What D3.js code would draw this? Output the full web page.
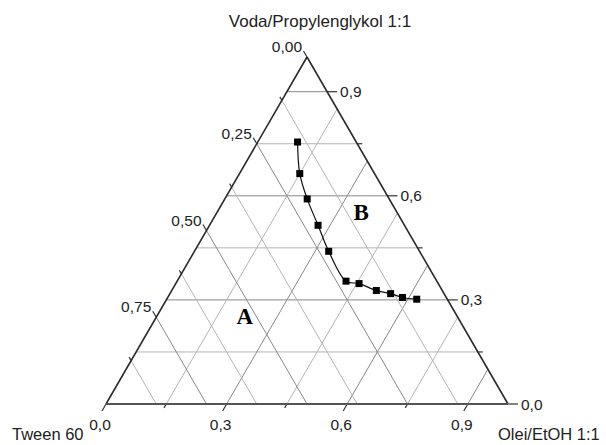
<!DOCTYPE html>
<html>
<head>
<meta charset="utf-8">
<script src="https://cdn.jsdelivr.net/npm/d3@7"></script>
<style>
  body { margin: 0; background: #fff; }
  svg { display: block; }
  text { font-family: "Liberation Sans", Arial, sans-serif; fill: #222; }
</style>
</head>
<body>
<div class="container"></div>
<script>
var width = 606, height = 445;

// composition of the measured boundary points (fractions)
var voda  = [0.755, 0.664, 0.591, 0.515, 0.440, 0.354, 0.347, 0.327, 0.318, 0.307, 0.302];
var olei  = [0.099, 0.150, 0.205, 0.270, 0.334, 0.420, 0.456, 0.509, 0.549, 0.584, 0.622];
var tween = [0.146, 0.186, 0.204, 0.215, 0.226, 0.226, 0.197, 0.164, 0.133, 0.109, 0.076];

// ticks on the three axes
var vodaTicks  = [0, 0.15, 0.3, 0.45, 0.6, 0.75, 0.9];
var vodaLabels = [0, 0.3, 0.6, 0.9];
var oleiTicks  = [0, 0.15, 0.3, 0.45, 0.6, 0.75, 0.9];
var oleiLabels = [0, 0.3, 0.6, 0.9];
var tweenTicks  = [0, 0.125, 0.25, 0.375, 0.5, 0.625, 0.75, 0.875];
var tweenLabels = [0, 0.25, 0.5, 0.75];

var regionNames = ["A", "B"];
var regionPos = [{v: 0.23, o: 0.23}, {v: 0.53, o: 0.37}]; // position of region labels (voda, olei)

var x = d3.scaleLinear().domain([0, 1]).range([106, 508]);
var y = d3.scaleLinear().domain([0, 1]).range([404, 57]);

function pt(v, o) {
	return [x(o + v / 2), y(v)];
}

var fmt1 = function(d){ return d3.format(".1f")(d).replace(".", ","); };
var fmt2 = function(d){ return d3.format(".2f")(d).replace(".", ","); };

var svg = d3.select(".container").append("svg")
	.attr("width", width)
	.attr("height", height);

var grid = svg.append("g").attr("class", "grid");
var c60 = 0.5, s60 = Math.sqrt(3) / 2;

function gridColor(major){ return major ? "#888" : "#b4b4b4"; }

// horizontal lines, constant voda
vodaTicks.forEach(function(v){
	var major = vodaLabels.indexOf(v) >= 0;
	var a = pt(v, 0), b = pt(v, 1 - v);
	if (v > 0) {
		grid.append("line")
			.attr("x1", a[0]).attr("y1", a[1]).attr("x2", b[0]).attr("y2", b[1])
			.attr("stroke", gridColor(major)).attr("stroke-width", 1);
	}
	var len = major ? 10 : 5;
	svg.append("line")
		.attr("x1", b[0]).attr("y1", b[1]).attr("x2", b[0] + len).attr("y2", b[1])
		.attr("stroke", "#333").attr("stroke-width", 1.2);
	if (major) {
		svg.append("text")
			.attr("x", b[0] + 13).attr("y", b[1]).attr("dy", "0.36em")
			.style("font-size", "15.5px")
			.text(fmt1(v));
	}
});

// lines parallel to the left edge, constant olei
oleiTicks.forEach(function(o){
	var major = oleiLabels.indexOf(o) >= 0;
	var a = pt(0, o), b = pt(1 - o, o);
	if (o > 0) {
		grid.append("line")
			.attr("x1", a[0]).attr("y1", a[1]).attr("x2", b[0]).attr("y2", b[1])
			.attr("stroke", gridColor(major)).attr("stroke-width", 1);
	}
	var len = major ? 8 : 4.5;
	svg.append("line")
		.attr("x1", a[0]).attr("y1", a[1]).attr("x2", a[0] - c60 * len).attr("y2", a[1] + s60 * len)
		.attr("stroke", "#333").attr("stroke-width", 1.2);
	if (major) {
		svg.append("text")
			.attr("x", a[0] - 6).attr("y", 430)
			.attr("text-anchor", "middle")
			.style("font-size", "15.5px")
			.text(fmt1(o));
	}
});

// lines parallel to the right edge, constant tween
tweenTicks.forEach(function(t){
	var major = tweenLabels.indexOf(t) >= 0;
	var a = pt(1 - t, 0), b = pt(0, 1 - t);
	if (t > 0) {
		grid.append("line")
			.attr("x1", a[0]).attr("y1", a[1]).attr("x2", b[0]).attr("y2", b[1])
			.attr("stroke", gridColor(major)).attr("stroke-width", 1);
	}
	var len = major ? 7 : 4;
	svg.append("line")
		.attr("x1", a[0]).attr("y1", a[1]).attr("x2", a[0] - c60 * len).attr("y2", a[1] - s60 * len)
		.attr("stroke", "#333").attr("stroke-width", 1.2);
	if (major) {
		svg.append("text")
			.attr("x", a[0] - 5).attr("y", a[1] - 5)
			.attr("text-anchor", "end")
			.style("font-size", "15.5px")
			.text(fmt2(t));
	}
});

// triangle frame
var T = pt(1, 0), L = pt(0, 0), R = pt(0, 1);
svg.append("line").attr("x1", L[0]).attr("y1", L[1]).attr("x2", T[0]).attr("y2", T[1])
	.attr("stroke", "#2a2a2a").attr("stroke-width", 1.6);
svg.append("line").attr("x1", R[0]).attr("y1", R[1]).attr("x2", T[0]).attr("y2", T[1])
	.attr("stroke", "#2a2a2a").attr("stroke-width", 1.6);
svg.append("line").attr("x1", L[0]).attr("y1", L[1]).attr("x2", R[0]).attr("y2", R[1])
	.attr("stroke", "#555").attr("stroke-width", 2);

// boundary curve
var pts = voda.map(function(v, i){ return pt(v, olei[i]); });
svg.append("path")
	.attr("d", d3.line().curve(d3.curveCatmullRom.alpha(0.5))(pts))
	.attr("fill", "none")
	.attr("stroke", "#111")
	.attr("stroke-width", 1.2);
svg.selectAll("rect.pt")
	.data(pts)
	.join("rect")
	.attr("class", "pt")
	.attr("x", function(d){ return d[0] - 3.5; })
	.attr("y", function(d){ return d[1] - 3.5; })
	.attr("width", 7).attr("height", 7)
	.attr("fill", "#000");

// region labels
regionNames.forEach(function(n, i){
	var p = pt(regionPos[i].v, regionPos[i].o);
	svg.append("text")
		.attr("x", p[0]).attr("y", p[1])
		.attr("text-anchor", "middle")
		.style("font-family", "'Liberation Serif', 'Times New Roman', serif")
		.style("font-weight", "bold")
		.style("font-size", "23px")
		.style("fill", "#000")
		.text(n);
});

// axis titles
svg.append("text").attr("x", 320).attr("y", 27).attr("text-anchor", "middle")
	.style("font-size", "17px").text("Voda/Propylenglykol 1:1");
svg.append("text").attr("x", 12).attr("y", 440)
	.style("font-size", "16.5px").text("Tween 60");
svg.append("text").attr("x", 498).attr("y", 440)
	.style("font-size", "16.5px").text("Olei/EtOH 1:1");
</script>
</body>
</html>
